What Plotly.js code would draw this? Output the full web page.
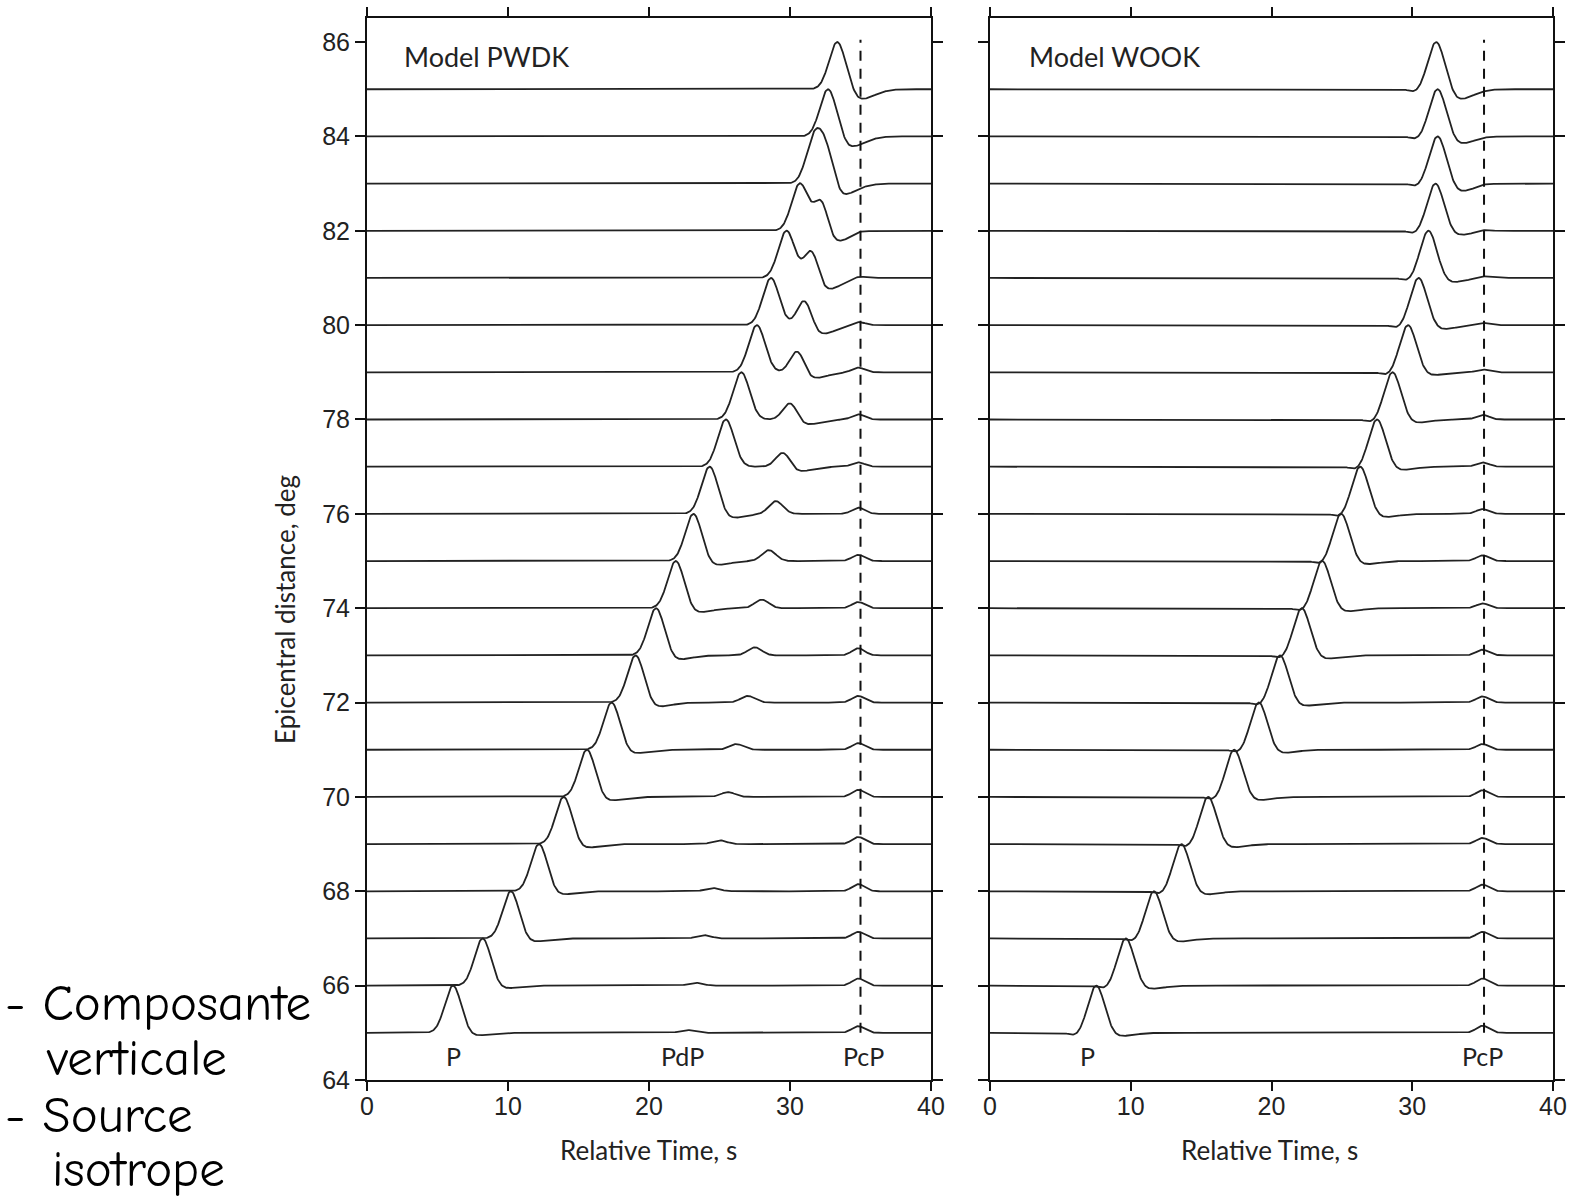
<!DOCTYPE html>
<html>
<head>
<meta charset="utf-8">
<script src="https://cdn.plot.ly/plotly-3.0.1.min.js"></script>
<style>html,body{margin:0;padding:0;background:#fff;}#chart{width:1573px;height:1200px;}</style>
</head>
<body>
<div id="chart"></div>
<script>
// ---------- data ----------
const distances = [65,66,67,68,69,70,71,72,73,74,75,76,77,78,79,80,81,82,83,84,85];

// Model PWDK (left panel)
const pwdkP      = [6.1, 8.2, 10.2, 12.2, 13.95, 15.6, 17.35, 19.05, 20.5, 21.9, 23.15, 24.3, 25.45, 26.55, 27.65, 28.65, 29.75, 30.7, 31.75, 32.7, 33.35];
const pwdkPdP    = [22.7, 23.3, 23.9, 24.5, 25.0, 25.6, 26.2, 27.0, 27.5, 28.0, 28.5, 29.0, 29.5, 30.0, 30.5, 31.0, 31.5, 32.2, 32.6, 33.0, 33.4];
const pwdkPdPAmp = [0.06, 0.06, 0.07, 0.07, 0.08, 0.10, 0.12, 0.14, 0.17, 0.18, 0.23, 0.27, 0.30, 0.35, 0.45, 0.52, 0.58, 0.64, 0.55, 0, 0];
const pwdkPcPAmp = [0.14, 0.15, 0.14, 0.15, 0.15, 0.15, 0.14, 0.14, 0.15, 0.13, 0.13, 0.13, 0.09, 0.11, 0.10, 0.07, 0.04, 0.03, 0.02, 0, 0];
const pwdkTrough = [7.6, 9.7, 11.7, 13.7, 15.45, 17.1, 18.85, 20.55, 22.0, 23.4, 24.65, 25.8, 30.6, 31.1, 31.6, 32.2, 32.6, 33.2, 33.8, 34.3, 35.0];
const pwdkTroughDepth = [0.06,0.06,0.07,0.07,0.08,0.08,0.08,0.09,0.09,0.09,0.09,0.09,0.10,0.11,0.13,0.19,0.25,0.24,0.24,0.22,0.21];
const pwdkPcPTime = 34.85;
const pwdkDashTime = 35.0;

// Model WOOK (right panel)
const wookP      = [7.55, 9.65, 11.65, 13.6, 15.5, 17.35, 19.1, 20.6, 22.15, 23.6, 24.95, 26.3, 27.5, 28.6, 29.7, 30.45, 31.15, 31.65, 31.8, 31.8, 31.7];
const wookPcPAmp = [0.15, 0.15, 0.14, 0.14, 0.13, 0.14, 0.12, 0.13, 0.12, 0.10, 0.12, 0.10, 0.09, 0.10, 0.06, 0.05, 0.04, 0.03, 0.02, 0.01, 0];
const wookTroughDepth = [0.07,0.07,0.07,0.07,0.07,0.07,0.07,0.07,0.07,0.07,0.07,0.07,0.07,0.07,0.06,0.085,0.09,0.09,0.16,0.15,0.21];
const wookPreDip = 0.06;
const wookPcPTime = 35.0;
const wookDashTime = 35.1;

const yTicks = [64,66,68,70,72,74,76,78,80,82,84,86];
const xTicks = [0,10,20,30,40];

// ---------- rendering helpers ----------
const tGrid = [];
for (let i = 0; i <= 800; i++) tGrid.push(i * 0.05);
function g(t, mu, s) { return Math.exp(-0.5 * ((t - mu) / s) ** 2); }
function trough(t, mu, depth) {
  return t < mu ? -depth * g(t, mu, 0.5) : -depth * g(t, mu, 1.0);
}
const lineStyle = {color: '#222', width: 1.8};
const data = [];

distances.forEach((d, i) => {
  const y = tGrid.map(t => d + g(t, pwdkP[i], 0.58) + pwdkPdPAmp[i] * g(t, pwdkPdP[i], 0.5)
    + pwdkPcPAmp[i] * g(t, pwdkPcPTime, 0.45) + trough(t, pwdkTrough[i], pwdkTroughDepth[i]));
  data.push({x: tGrid, y: y, xaxis: 'x', yaxis: 'y', mode: 'lines', line: lineStyle, hoverinfo: 'skip', showlegend: false});
});
distances.forEach((d, i) => {
  const y = tGrid.map(t => d + g(t, wookP[i], 0.58) - wookPreDip * g(t, wookP[i] - 1.5, 0.4)
    + trough(t, wookP[i] + 1.65, wookTroughDepth[i]) + wookPcPAmp[i] * g(t, wookPcPTime, 0.45));
  data.push({x: tGrid, y: y, xaxis: 'x2', yaxis: 'y2', mode: 'lines', line: lineStyle, hoverinfo: 'skip', showlegend: false});
});
// dashed PcP reference lines
const dashStyle = {color: '#111', width: 2, dash: '10px,8px'};
data.push({x: [pwdkDashTime, pwdkDashTime], y: [distances[0], 86.05], xaxis: 'x', yaxis: 'y', mode: 'lines', line: dashStyle, hoverinfo: 'skip', showlegend: false});
data.push({x: [wookDashTime, wookDashTime], y: [distances[0], 86.05], xaxis: 'x2', yaxis: 'y2', mode: 'lines', line: dashStyle, hoverinfo: 'skip', showlegend: false});

const W = 1573, H = 1200;
const tickFont = {family: 'Liberation Sans, Arial, sans-serif', size: 25, color: '#222'};
const axisBase = {
  showgrid: false, zeroline: false, showline: true, linecolor: '#111', linewidth: 2,
  mirror: 'ticks', ticks: 'outside', ticklen: 10, tickwidth: 2, tickcolor: '#111',
  tickfont: tickFont, fixedrange: true
};
const xAxisBase = Object.assign({}, axisBase, {ticklen: 9, ticklabelstandoff: -6});
const lblFont = {family: 'Lato, Open Sans, sans-serif', size: 25, color: '#222'};
const titleFont = {family: 'Lato, Open Sans, sans-serif', size: 26, color: '#222'};
const modelFont = {family: 'Lato, Open Sans, sans-serif', size: 27, color: '#222'};
const px = v => v / W, py = v => 1 - v / H;
const comic = {family: 'Comic Sans MS, Comic Neue, DejaVu Sans, sans-serif', size: 51, color: '#000'};
const C = {xanchor: 'center', yanchor: 'middle', showarrow: false};
const L = {xanchor: 'left', yanchor: 'middle', showarrow: false};

const annotations = [
  Object.assign({xref: 'x', yref: 'y', x: 2.5, y: 85.7, text: 'Model PWDK', font: modelFont}, L),
  Object.assign({xref: 'x2', yref: 'y2', x: 2.65, y: 85.7, text: 'Model WOOK', font: modelFont}, L),
  Object.assign({xref: 'x', yref: 'y', x: 6.1, y: 64.5, text: 'P', font: lblFont}, C),
  Object.assign({xref: 'x', yref: 'y', x: 22.4, y: 64.5, text: 'PdP', font: lblFont}, C),
  Object.assign({xref: 'x', yref: 'y', x: 35.2, y: 64.5, text: 'PcP', font: lblFont}, C),
  Object.assign({xref: 'x2', yref: 'y2', x: 6.9, y: 64.5, text: 'P', font: lblFont}, C),
  Object.assign({xref: 'x2', yref: 'y2', x: 35.0, y: 64.5, text: 'PcP', font: lblFont}, C),
  Object.assign({xref: 'paper', yref: 'paper', x: px(648), y: py(1150), text: 'Relative Time, s', font: titleFont}, C),
  Object.assign({xref: 'paper', yref: 'paper', x: px(1269), y: py(1150), text: 'Relative Time, s', font: titleFont}, C),
  Object.assign({xref: 'paper', yref: 'paper', x: px(285), y: py(610), text: 'Epicentral distance, deg', textangle: -90, font: titleFont}, C),
  Object.assign({xref: 'paper', yref: 'paper', x: px(3), y: py(1003), text: '- Composante', font: comic}, L),
  Object.assign({xref: 'paper', yref: 'paper', x: px(44), y: py(1058), text: 'verticale', font: comic}, L),
  Object.assign({xref: 'paper', yref: 'paper', x: px(3), y: py(1115), text: '- Source', font: comic}, L),
  Object.assign({xref: 'paper', yref: 'paper', x: px(50), y: py(1169), text: 'isotrope', font: comic}, L)
];

const layout = {
  width: W, height: H,
  margin: {l: 0, r: 0, t: 0, b: 0},
  paper_bgcolor: '#fff', plot_bgcolor: '#fff',
  showlegend: false,
  xaxis: Object.assign({}, xAxisBase, {domain: [px(367), px(931)], range: [0, 40], tickvals: xTicks, anchor: 'y'}),
  yaxis: Object.assign({}, axisBase, {domain: [py(1080), py(18)], range: [64, 86.51], tickvals: yTicks, anchor: 'x'}),
  xaxis2: Object.assign({}, xAxisBase, {domain: [px(990), px(1553)], range: [0, 40], tickvals: xTicks, anchor: 'y2'}),
  yaxis2: Object.assign({}, axisBase, {domain: [py(1080), py(18)], range: [64, 86.51], tickvals: yTicks, showticklabels: false, anchor: 'x2'}),
  annotations: annotations
};

Plotly.newPlot('chart', data, layout, {displayModeBar: false, staticPlot: true});
</script>
</body>
</html>
